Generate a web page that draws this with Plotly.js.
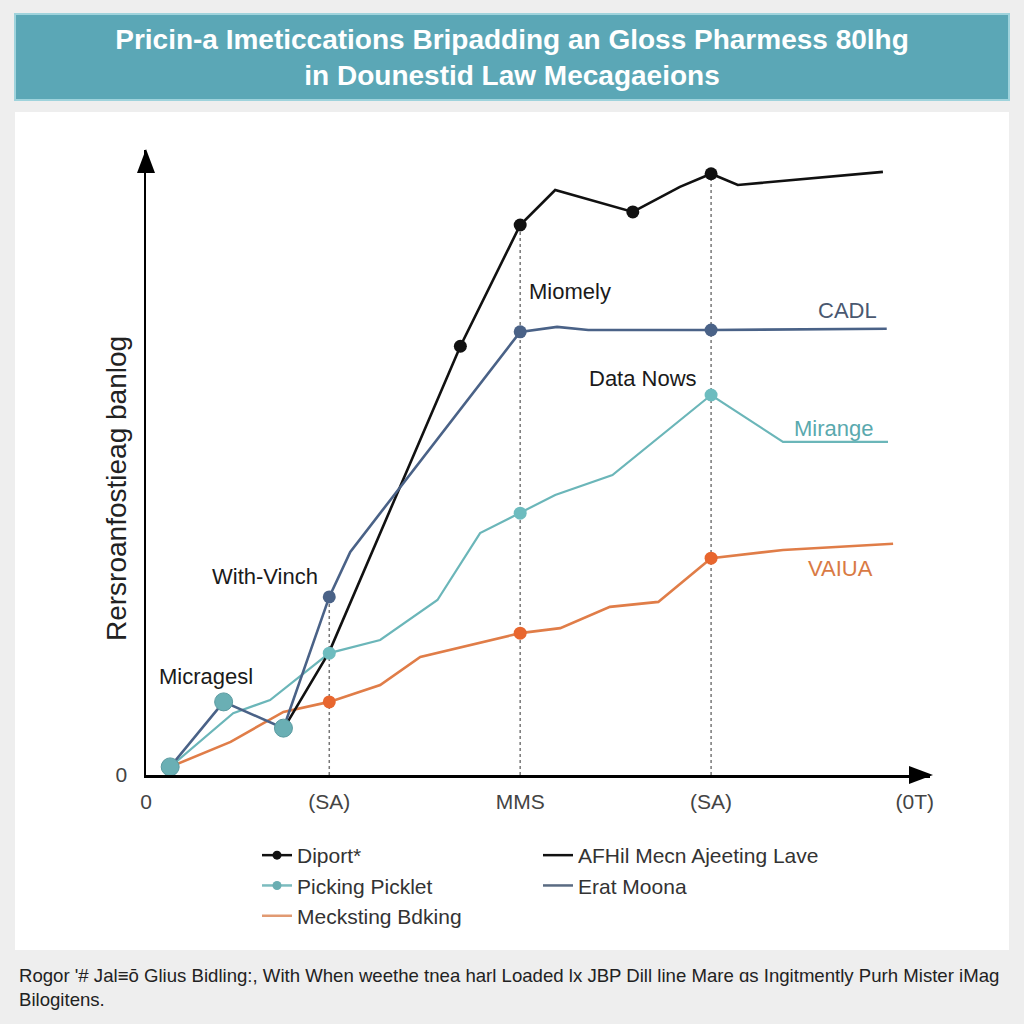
<!DOCTYPE html>
<html>
<head>
<meta charset="utf-8">
<script src="https://cdn.plot.ly/plotly-3.0.1.min.js"></script>
<style>html,body{margin:0;padding:0;background:#eeeeee;}#chart{width:1024px;height:1024px;}</style>
</head>
<body>
<div id="chart"></div>
<script>
// ---- data ----
const xTickVals = [0.12, 3, 6, 9, 12.2];
const xTickText = ['0', '(SA)', 'MMS', '(SA)', '(0T)'];
const yTickVals = [0];
const yTickText = ['0'];

const diportX = [2.3, 3.0, 5.06, 6.0, 6.55, 7.77, 8.51, 9.0, 9.42, 11.7];
const diportY = [7.7, 19.7, 68.6, 88.0, 93.6, 90.1, 94.1, 96.2, 94.4, 96.5];
const diportMarked = [0, 0, 1, 1, 0, 1, 0, 1, 0, 0];

const eratX = [0.5, 1.34, 2.28, 3.0, 3.33, 6.0, 6.58, 7.07, 9.0, 11.76];
const eratY = [1.3, 11.7, 7.5, 28.5, 35.7, 70.9, 71.7, 71.2, 71.2, 71.4];
const eratMarked = [1, 1, 1, 1, 0, 1, 0, 0, 1, 0];

const pickingX = [0.5, 1.49, 2.07, 3.0, 3.8, 4.7, 5.37, 6.0, 6.55, 7.45, 9.0, 10.13, 11.78];
const pickingY = [1.3, 9.9, 12.0, 19.5, 21.6, 28.0, 38.7, 41.9, 44.8, 48.0, 60.8, 53.3, 53.3];
const pickingMarked = [0, 0, 0, 1, 0, 0, 0, 1, 0, 0, 1, 0, 0];

const mecksX = [0.5, 1.45, 2.28, 3.0, 3.8, 4.43, 6.0, 6.63, 7.41, 8.17, 9.0, 10.13, 11.86];
const mecksY = [1.3, 5.3, 10.1, 11.7, 14.4, 18.9, 22.7, 23.5, 26.9, 27.7, 34.7, 36.0, 37.0];
const mecksMarked = [0, 0, 0, 1, 0, 0, 1, 0, 0, 0, 1, 0, 0];

const legendNames = ['Diport*', 'AFHil Mecn Ajeeting Lave', 'Picking Picklet', 'Erat Moona', 'Mecksting Bdking'];
const guideX = [3, 6, 9];

const labels = [
  {text: 'Bortt Mutety', x: 9.88, y: 100.3, c: '#1a1a1a'},
  {text: 'Miomely', x: 6.78, y: 77.4, c: '#1a1a1a'},
  {text: 'CADL', x: 11.15, y: 74.4, c: '#4a5870'},
  {text: 'Data Nows', x: 7.93, y: 63.4, c: '#1a1a1a'},
  {text: 'Mirange', x: 10.93, y: 55.5, c: '#5aa9ae'},
  {text: 'VAIUA', x: 11.04, y: 33.1, c: '#d97a44'},
  {text: 'With-Vinch', x: 1.99, y: 31.7, c: '#1a1a1a'},
  {text: 'Micragesl', x: 1.07, y: 15.7, c: '#1a1a1a'}
];

const titleText = 'Pricin-a Imeticcations Bripadding an Gloss Pharmess 80lhg<br>in Dounestid Law Mecagaeions';
const yTitle = 'Rersroanfostieag banlog';
const caption = "Rogor '# Jal\u2261\u014d Glius Bidling:, With When weethe tnea harl Loaded lx JBP Dill line Mare \u0251s Ingitmently Purh Mister iMag<br>Bilogitens.";

// ---- styles ----
const BLACK = '#111111', SLATE = '#4a6287', TEAL = '#6bb6b9', ORANGE = '#e07d48';
const FONT = 'Liberation Sans, Arial, sans-serif';

function pick(arr, flags) { return arr.filter((_, i) => flags[i]); }

const traces = [];
// lines
traces.push({x: mecksX, y: mecksY, mode: 'lines', line: {color: ORANGE, width: 2.6}, showlegend: false, hoverinfo: 'skip'});
traces.push({x: pickingX, y: pickingY, mode: 'lines', line: {color: TEAL, width: 2.2}, showlegend: false, hoverinfo: 'skip'});
traces.push({x: diportX, y: diportY, mode: 'lines', line: {color: BLACK, width: 2.6}, showlegend: false, hoverinfo: 'skip'});
traces.push({x: eratX, y: eratY, mode: 'lines', line: {color: SLATE, width: 2.6}, showlegend: false, hoverinfo: 'skip'});
// markers
traces.push({x: pick(mecksX, mecksMarked), y: pick(mecksY, mecksMarked), mode: 'markers',
  marker: {color: '#e8662e', size: 13}, showlegend: false, hoverinfo: 'skip'});
traces.push({x: pick(pickingX, pickingMarked), y: pick(pickingY, pickingMarked), mode: 'markers',
  marker: {color: '#6dbcbf', size: 13}, showlegend: false, hoverinfo: 'skip'});
traces.push({x: pick(diportX, diportMarked), y: pick(diportY, diportMarked), mode: 'markers',
  marker: {color: BLACK, size: 13}, showlegend: false, hoverinfo: 'skip'});
const eratMx = pick(eratX, eratMarked), eratMy = pick(eratY, eratMarked);
traces.push({x: eratMx.slice(0, 3), y: eratMy.slice(0, 3), mode: 'markers',
  marker: {color: '#6aafb4', size: 18, line: {color: '#5a9aa0', width: 1}}, showlegend: false, hoverinfo: 'skip'});
traces.push({x: eratMx.slice(3), y: eratMy.slice(3), mode: 'markers',
  marker: {color: SLATE, size: 13}, showlegend: false, hoverinfo: 'skip'});
// legend entries
const legendStyles = [
  {mode: 'lines+markers', line: {color: BLACK, width: 2.5}, marker: {color: BLACK, size: 9}},
  {mode: 'lines', line: {color: BLACK, width: 2.5}},
  {mode: 'lines+markers', line: {color: '#7cbcbf', width: 2.5}, marker: {color: '#6aaeb2', size: 9}},
  {mode: 'lines', line: {color: '#5a6b82', width: 2.5}},
  {mode: 'lines', line: {color: '#e19a72', width: 2.5}}
];
legendNames.forEach((n, i) => {
  traces.push(Object.assign({x: [null], y: [null], name: n, legendrank: i + 1, hoverinfo: 'skip'}, legendStyles[i]));
});

// guide lines
const allSeries = [[diportX, diportY], [eratX, eratY], [pickingX, pickingY], [mecksX, mecksY]];
const shapes = [];
// background panels (paper coords: plot area x 146..930, y 150..775)
const W = 784, H = 625;
const px = v => (v - 146) / W, py = v => (775 - v) / H;
shapes.push({type: 'rect', xref: 'paper', yref: 'paper', x0: px(15), x1: px(1009), y0: py(112), y1: py(950),
  fillcolor: '#ffffff', line: {width: 0}, layer: 'below'});
shapes.push({type: 'rect', xref: 'paper', yref: 'paper', x0: px(15), x1: px(1009), y0: py(14), y1: py(100),
  fillcolor: '#5ba7b6', line: {color: '#9fd3dc', width: 2}, layer: 'below'});
guideX.forEach(gx => {
  let top = 0;
  allSeries.forEach(([xs, ys]) => xs.forEach((v, i) => { if (v === gx && ys[i] > top) top = ys[i]; }));
  shapes.push({type: 'line', xref: 'x', yref: 'y', x0: gx, x1: gx, y0: 0, y1: top,
    line: {color: '#777777', width: 1.5, dash: 'dot'}, layer: 'below'});
});
// arrowheads
shapes.push({type: 'path', xref: 'paper', yref: 'paper',
  path: `M 0 ${py(149)} L ${-9 / W} ${py(173)} L ${9 / W} ${py(173)} Z`, fillcolor: '#000', line: {width: 0}});
shapes.push({type: 'path', xref: 'paper', yref: 'paper',
  path: `M ${px(933)} 0 L ${px(909)} ${9 / H} L ${px(909)} ${-9 / H} Z`, fillcolor: '#000', line: {width: 0}});

const annotations = labels.map(l => ({text: l.text, x: l.x, y: l.y, xref: 'x', yref: 'y', showarrow: false,
  font: {family: FONT, size: 22, color: l.c}, xanchor: 'center', yanchor: 'middle'}));
// y axis title
annotations.push({text: yTitle, xref: 'paper', yref: 'paper', x: px(116), y: py(489), textangle: -90,
  xanchor: 'center', yanchor: 'middle', showarrow: false, font: {family: FONT, size: 28, color: '#222'}});
// caption
annotations.push({text: caption, xref: 'paper', yref: 'paper', x: px(17), y: py(963), xanchor: 'left', yanchor: 'top',
  align: 'left', showarrow: false, font: {family: FONT, size: 18.6, color: '#222'}});

const layout = {
  width: 1024, height: 1024,
  margin: {l: 146, r: 94, t: 150, b: 249},
  paper_bgcolor: '#eeeeee', plot_bgcolor: 'rgba(0,0,0,0)',
  title: {text: titleText, font: {family: FONT, size: 28, color: '#ffffff', weight: 'bold'},
    x: 0.5, xanchor: 'center', y: 1 - 49 / 1024, yanchor: 'middle', yref: 'container'},
  xaxis: {range: [0.12, 12.44], showgrid: false, zeroline: false, showline: true, linecolor: '#000', linewidth: 2.5,
    tickmode: 'array', tickvals: xTickVals, ticktext: xTickText, ticks: '', ticklabelstandoff: 6,
    tickfont: {family: FONT, size: 21, color: '#444'}, fixedrange: true},
  yaxis: {range: [0, 100], showgrid: false, zeroline: false, showline: true, linecolor: '#000', linewidth: 2.5,
    tickmode: 'array', tickvals: yTickVals, ticktext: yTickText, ticks: '', ticklabelstandoff: 12,
    tickfont: {family: FONT, size: 21, color: '#444'}, fixedrange: true},
  showlegend: true,
  legend: {orientation: 'h', x: px(257), y: py(835), xanchor: 'left', yanchor: 'top',
    entrywidth: 236, entrywidthmode: 'pixels', traceorder: 'normal',
    font: {family: FONT, size: 21, color: '#333'}, bgcolor: 'rgba(0,0,0,0)'},
  shapes: shapes,
  annotations: annotations
};

Plotly.newPlot('chart', traces, layout, {staticPlot: true, displayModeBar: false});
</script>
</body>
</html>
